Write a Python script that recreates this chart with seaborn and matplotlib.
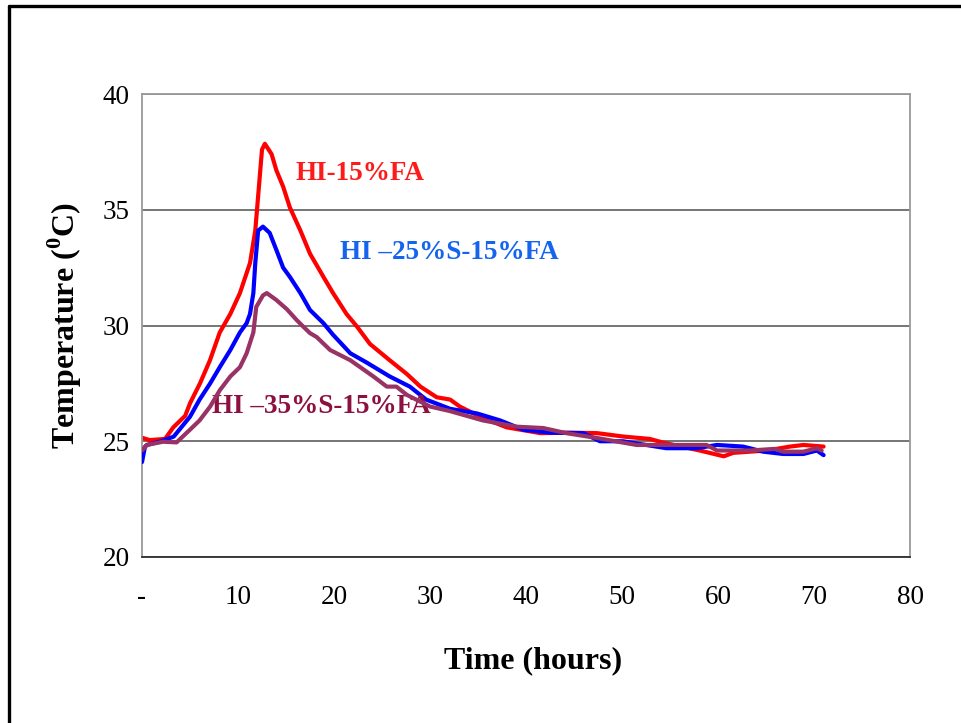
import numpy as np
import pandas as pd
import matplotlib
matplotlib.use("Agg")
import matplotlib.pyplot as plt
from matplotlib.lines import Line2D
import seaborn as sns

# Heat of hydration, measured temperature (deg C) against time (hours)
t_fa15 = [0, 0.8, 2.4, 3.26, 4.5, 5.0, 6.04, 7.08, 8.1, 9.2, 10.2, 11.25, 11.8, 12.1, 12.5, 12.8,
          13.5, 14.0, 14.7, 15.4, 16.5, 17.5, 18.9, 19.9, 21.3, 22.4, 23.75, 25.8, 27.6, 29.0,
          30.7, 32.1, 33.1, 35.5, 38.0, 41.5, 44.6, 47.4, 50.2, 52.9, 54.3, 58.1, 60.6, 61.6,
          65.1, 67.5, 68.9, 71.0]
T_fa15 = [25.15, 25.05, 25.1, 25.6, 26.1, 26.64, 27.5, 28.5, 29.7, 30.5, 31.4, 32.7, 34.1, 35.6, 37.6, 37.85,
          37.4, 36.7, 36.0, 35.1, 34.1, 33.1, 32.1, 31.4, 30.5, 29.95, 29.2, 28.5, 27.9, 27.36,
          26.9, 26.8, 26.5, 26.0, 25.6, 25.35, 25.37, 25.35, 25.2, 25.1, 24.94, 24.6, 24.35, 24.5,
          24.6, 24.77, 24.84, 24.77]

t_s25 = [0, 0.3, 0.5, 2.0, 3.3, 5.0, 6.0, 7.1, 8.1, 9.2, 10.2, 10.9, 11.25, 11.6, 11.8, 12.1, 12.6,
         13.3, 14.0, 14.7, 15.4, 16.5, 17.5, 18.9, 19.9, 21.7, 23.4, 25.8, 27.9, 29.6, 32.1,
         34.9, 37.3, 39.7, 42.5, 46.0, 47.7, 50.1, 54.6, 57.8, 59.9, 62.6, 63.3, 64.7, 66.8,
         68.9, 70.3, 71.0]
T_s25 = [24.1, 24.75, 24.84, 25.0, 25.2, 26.06, 26.8, 27.5, 28.2, 28.94, 29.7, 30.1, 30.5, 31.4, 32.7, 34.1, 34.27,
         34.0, 33.26, 32.5, 32.1, 31.4, 30.67, 30.1, 29.6, 28.8, 28.4, 27.8, 27.36, 26.8, 26.4,
         26.2, 25.9, 25.5, 25.37, 25.35, 25.0, 25.0, 24.7, 24.7, 24.84, 24.77, 24.7, 24.55, 24.45,
         24.45, 24.6, 24.4]

t_s35 = [0, 0.5, 2.2, 3.6, 5.0, 6.0, 7.1, 8.1, 9.2, 10.2, 10.9, 11.6, 11.9, 12.6, 13.0, 14.0, 15.1,
         16.1, 16.8, 17.5, 18.2, 19.6, 21.7, 24.1, 25.5, 26.5, 27.6, 30.0, 32.1, 35.5, 39.0,
         41.8, 44.2, 47.4, 51.5, 56.4, 58.8, 59.9, 63.3, 65.9, 66.8, 68.9, 70.3, 70.8]
T_s35 = [24.6, 24.84, 24.98, 24.95, 25.5, 25.9, 26.5, 27.2, 27.8, 28.2, 28.8, 29.7, 30.8, 31.3, 31.4, 31.1, 30.7,
         30.24, 29.95, 29.67, 29.5, 28.94, 28.5, 27.8, 27.36, 27.36, 27.0, 26.5, 26.3, 25.9, 25.63,
         25.57, 25.35, 25.14, 24.84, 24.84, 24.84, 24.6, 24.6, 24.67, 24.55, 24.55, 24.7, 24.6]

series_names = ["HI-15%FA", "HI \u201325%S-15%FA", "HI \u201335%S-15%FA"]
line_colors = ["#FF0000", "#0000FF", "#993366"]
label_colors = ["#FF1A1A", "#1464F0", "#8C1040"]

x_ticks = [0, 10, 20, 30, 40, 50, 60, 70, 80]
x_tick_labels = ["-", "10", "20", "30", "40", "50", "60", "70", "80"]
y_ticks = [20, 25, 30, 35, 40]

df = pd.concat([
    pd.DataFrame({"time": t_fa15, "temp": T_fa15, "mix": series_names[0]}),
    pd.DataFrame({"time": t_s25, "temp": T_s25, "mix": series_names[1]}),
    pd.DataFrame({"time": t_s35, "temp": T_s35, "mix": series_names[2]}),
], ignore_index=True)

sns.set_style("white")
plt.rcParams["font.family"] = ["Liberation Serif", "DejaVu Serif"]
plt.rcParams["mathtext.fontset"] = "custom"
plt.rcParams["mathtext.rm"] = "Liberation Serif:bold"
plt.rcParams["mathtext.bf"] = "Liberation Serif:bold"

fig = plt.figure(figsize=(9.62, 7.23), dpi=100)
ax = fig.add_axes([142 / 962, 1 - 557 / 723, 768 / 962, 463 / 723])

sns.lineplot(data=df, x="time", y="temp", hue="mix", palette=dict(zip(series_names, line_colors)),
             linewidth=3.0, sort=False, estimator=None, legend=False, ax=ax)
# stacking of the curves: red below, then blue, purple on top
for line, z in zip(ax.get_lines(), [2, 3, 4]):
    line.set_zorder(z)

ax.set_xlim(0, 80)
ax.set_ylim(20, 40)
ax.set_xticks(x_ticks)
ax.set_xticklabels(x_tick_labels)
ax.set_yticks(y_ticks)
ax.tick_params(axis="x", direction="out", length=6, width=1.2, color="#606060",
               labelsize=19.5, pad=14)
ax.tick_params(axis="y", length=0, labelsize=19.5, pad=9)
for lab in ax.get_xticklabels() + ax.get_yticklabels():
    lab.set_color("black")

ax.grid(axis="y", color="#505050", linewidth=1.1)
ax.grid(axis="x", visible=False)
ax.set_axisbelow(True)
for side in ["left", "right", "top"]:
    ax.spines[side].set_color("#9A9A9A")
    ax.spines[side].set_linewidth(1.3)
ax.spines["bottom"].set_color("#303030")
ax.spines["bottom"].set_linewidth(1.3)

ax.set_xlabel("Time (hours)", fontsize=23, fontweight="bold", color="black", labelpad=26)
ax.set_ylabel(r"Temperature ($^{0}$C)", fontsize=23, fontweight="bold", color="black", labelpad=13)
ax.xaxis.label.set_x(0.509)

# series labels next to their curves
ax.text(16.0, 36.55, series_names[0], color=label_colors[0], fontsize=19.5, fontweight="bold",
        va="center", ha="left")
ax.text(20.6, 33.15, series_names[1], color=label_colors[1], fontsize=19.5, fontweight="bold",
        va="center", ha="left")
ax.text(7.3, 26.5, series_names[2], color=label_colors[2], fontsize=19.5, fontweight="bold",
        va="center", ha="left")

# outer frame around the chart
fx, fy = 8.5 / 962, 1 - 5.5 / 723
fig.add_artist(Line2D([fx, fx], [0, fy], transform=fig.transFigure, color="black", linewidth=2.4))
fig.add_artist(Line2D([fx, 1], [fy, fy], transform=fig.transFigure, color="black", linewidth=2.4))

fig.savefig("out.png", dpi=100, facecolor="white")
